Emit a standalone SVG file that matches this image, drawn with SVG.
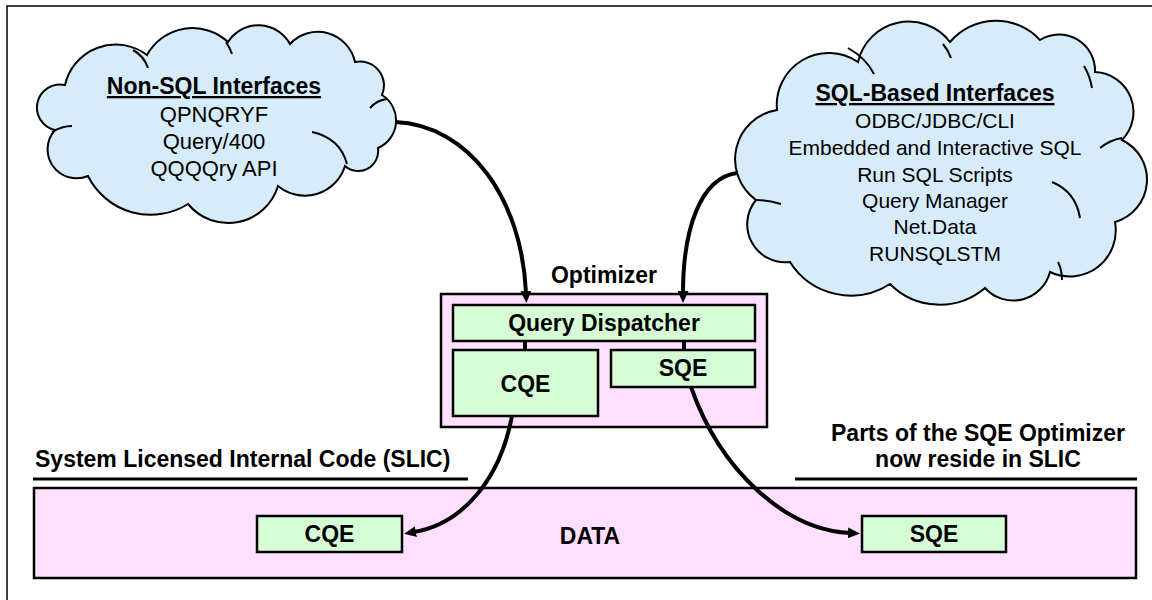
<svg xmlns="http://www.w3.org/2000/svg" width="1152" height="600" viewBox="0 0 1152 600">
<defs>
<style>
.cloud{fill:#d6ecfb;stroke:#000;stroke-width:2}
.inner{fill:none;stroke:#000;stroke-width:2}
.pink{fill:#ffdfff;stroke:#000;stroke-width:2.5}
.green{fill:#d6fcd6;stroke:#000;stroke-width:2.5}
.conn{fill:none;stroke:#000;stroke-width:4}
.rule{stroke:#000;stroke-width:3}
.t{font-family:"Liberation Sans",Arial,sans-serif;fill:#000}
.b{font-weight:bold;font-size:23px}
.h{font-weight:bold;font-size:23px;text-decoration:underline}
.l{font-size:22px}
.r{font-size:21px}
.c{text-anchor:middle}
</style>
<marker id="ah" markerUnits="userSpaceOnUse" markerWidth="12" markerHeight="11" refX="2" refY="5.5" orient="auto">
<path d="M0,0 L12,5.5 L0,11 z" fill="#000"/>
</marker>
</defs>
<rect x="0" y="0" width="1152" height="600" fill="#fff"/>
<rect x="7" y="6" width="1160" height="610" fill="none" stroke="#000" stroke-width="1.5"/>

<g id="non-sql-cloud">
<path class="cloud" d="M 65 85 A 52 52 0 0 1 147 55 A 52 52 0 0 1 228 42 A 36 36 0 0 1 290 44 A 38 38 0 0 1 355 62 A 24 24 0 0 1 382 95 A 30 30 0 0 1 378 148 A 20 20 0 0 1 345 166 A 42 42 0 0 1 278 186 A 52 52 0 0 1 188 204 A 70 70 0 0 1 88 176 A 29 29 0 0 1 55 130 A 23 23 0 0 1 65 85 Z"/>
<path class="inner" d="M 133 50 Q 144 56 148 68 M 226 42 Q 230 48 232 54 M 370 108 Q 377 100 387 99 M 312 132 Q 340 138 347 164 M 52 132 Q 62 126 72 126"/>
<text class="t h c" x="214" y="94">Non-SQL Interfaces</text>
<text class="t l c" x="214" y="122">QPNQRYF</text>
<text class="t l c" x="214" y="149">Query/400</text>
<text class="t l c" x="214" y="176">QQQQry API</text>
</g>

<g id="sql-cloud">
<path class="cloud" d="M 777 110 A 52 52 0 0 1 858 62 A 52 52 0 0 1 950 42 A 60 60 0 0 1 1040 40 A 36 36 0 0 1 1095 72 A 40 40 0 0 1 1122 140 A 44 44 0 0 1 1115 222 A 46 46 0 0 1 1050 272 A 38 38 0 0 1 985 288 A 70 70 0 0 1 890 284 A 72 72 0 0 1 790 262 A 38 38 0 0 1 756 200 A 50 50 0 0 1 777 110 Z"/>
<path class="inner" d="M 848 48 Q 866 58 874 74 M 943 44 Q 948 50 951 58 M 1084 66 Q 1090 76 1092 88 M 1100 148 Q 1110 140 1122 138 M 1052 182 Q 1076 192 1080 218 M 1058 262 Q 1062 270 1062 280 M 757 200 Q 768 200 781 204"/>
<text class="t h c" x="935" y="101">SQL-Based Interfaces</text>
<text class="t r c" x="935" y="128">ODBC/JDBC/CLI</text>
<text class="t r c" x="935" y="155">Embedded and Interactive SQL</text>
<text class="t r c" x="935" y="182">Run SQL Scripts</text>
<text class="t r c" x="935" y="208">Query Manager</text>
<text class="t r c" x="935" y="234">Net.Data</text>
<text class="t r c" x="935" y="261">RUNSQLSTM</text>
</g>

<g id="optimizer">
<text class="t b c" x="604" y="283">Optimizer</text>
<rect class="pink" x="441" y="294" width="326" height="133"/>
</g>
<g id="query-dispatcher">
<rect class="green" x="453" y="305" width="302" height="36"/>
<text class="t b c" x="604" y="331">Query Dispatcher</text>
</g>
<g id="cqe-opt">
<rect class="green" x="453" y="350" width="145" height="66"/>
<text class="t b c" x="525.5" y="392">CQE</text>
</g>
<g id="sqe-opt">
<rect class="green" x="611" y="350" width="144" height="37"/>
<text class="t b c" x="683" y="376">SQE</text>
</g>

<g id="slic-labels">
<text class="t b" x="35" y="467">System Licensed Internal Code (SLIC)</text>
<line class="rule" x1="33" y1="479" x2="468" y2="479"/>
<text class="t b c" x="978" y="441">Parts of the SQE Optimizer</text>
<text class="t b c" x="978" y="467">now reside in SLIC</text>
<line class="rule" x1="795" y1="479" x2="1137" y2="479"/>
</g>

<g id="data">
<rect class="pink" x="34" y="488" width="1102" height="90" stroke-width="2"/>
<text class="t b c" x="590" y="544">DATA</text>
</g>
<g id="cqe-slic">
<rect class="green" x="257" y="516" width="145" height="36"/>
<text class="t b c" x="329.5" y="542">CQE</text>
</g>
<g id="sqe-slic">
<rect class="green" x="862" y="516" width="144" height="36"/>
<text class="t b c" x="934" y="542">SQE</text>
</g>

<g id="connectors">
<path class="conn" d="M 395 122 C 470 125, 522 200, 526 293" marker-end="url(#ah)"/>
<path class="conn" d="M 737 173 C 700 178, 683 230, 683 293" marker-end="url(#ah)"/>
<line class="conn" x1="525" y1="341" x2="525" y2="350"/>
<line class="conn" x1="684" y1="341" x2="684" y2="350"/>
<path class="conn" d="M 512 416 C 500 480, 462 524, 414 532" marker-end="url(#ah)"/>
<path class="conn" d="M 691 387 C 720 470, 785 530, 850 533" marker-end="url(#ah)"/>
</g>
</svg>
